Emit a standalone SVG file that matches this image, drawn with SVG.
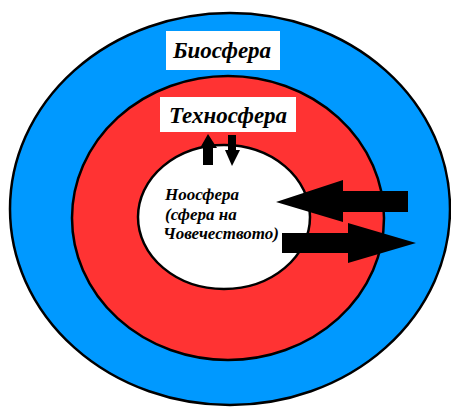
<svg xmlns="http://www.w3.org/2000/svg" width="451" height="407" viewBox="0 0 451 407">
<style>
.ring{stroke:#000;stroke-width:2.5}
.lbl{font-family:"Liberation Serif","DejaVu Serif",serif;font-weight:bold;font-style:italic;fill:#000}
.box{fill:#fff}
.arr{fill:#000}
</style>
<rect width="451" height="407" fill="#fff"/>
<g id="biosphere">
<ellipse class="ring" cx="230" cy="209" rx="220" ry="196" fill="#0099ff"/>
<rect class="box" x="166" y="31" width="114" height="39"/>
<text class="lbl" x="222" y="58" font-size="23" text-anchor="middle">Биосфера</text>
</g>
<g id="technosphere">
<ellipse class="ring" cx="228" cy="218" rx="156" ry="142" fill="#ff3333"/>
<rect class="box" x="160" y="97" width="136" height="35"/>
<text class="lbl" x="228" y="123" font-size="23" text-anchor="middle">Техносфера</text>
</g>
<g id="noosphere">
<ellipse class="ring" cx="224" cy="217" rx="86" ry="72" fill="#fff"/>
<text class="lbl" font-size="17"><tspan x="165" y="200">Ноосфера</tspan><tspan x="165" y="220">(сфера на</tspan><tspan x="163" y="239">Човечеството)</tspan></text>
</g>
<g id="connectors">
<polygon class="arr" points="203,165 203,148 200,148 208,134 217,148 213,148 213,165"/>
<polygon class="arr" points="228,135 236,135 236,150 240,150 232,166 225,150 228,150"/>
<polygon class="arr" points="408,191 343,191 343,180 276,202 343,222 343,212 408,212"/>
<polygon class="arr" points="282,233 348,233 348,223 416,243 348,263 348,253 282,253"/>
</g>
</svg>
